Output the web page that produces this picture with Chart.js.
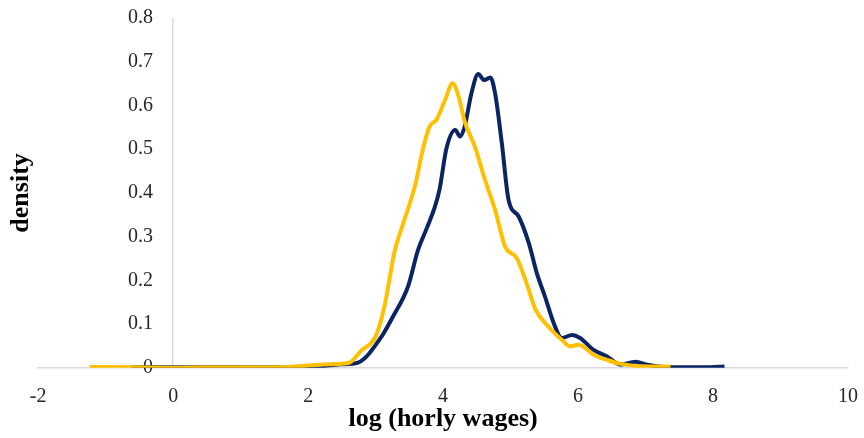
<!DOCTYPE html>
<html>
<head>
<meta charset="utf-8">
<script src="https://cdn.jsdelivr.net/npm/chart.js@4"></script>
<style>
  html, body { margin: 0; padding: 0; background: #fff; }
  #wrap { width: 864px; height: 438px; }
</style>
</head>
<body>
<div id="wrap"><canvas id="densityChart"></canvas></div>
<script>
// values
var goldX = [-1.24, -0.5, 0, 0.5, 1, 1.5, 2.0, 2.3, 2.6, 2.79, 3.0, 3.13, 3.28, 3.41, 3.58, 3.71, 3.80, 3.90, 4.03, 4.14, 4.23, 4.32, 4.47, 4.62, 4.77, 4.92, 5.09, 5.22, 5.37, 5.56, 5.76, 5.88, 6.01, 6.23, 6.43, 6.63, 7.05, 7.37];
var goldY = [0.002, 0.001, 0.000, 0.001, 0.001, 0.001, 0.005, 0.008, 0.011, 0.040, 0.072, 0.140, 0.265, 0.331, 0.414, 0.506, 0.552, 0.567, 0.613, 0.651, 0.620, 0.563, 0.506, 0.430, 0.361, 0.277, 0.251, 0.201, 0.133, 0.094, 0.064, 0.049, 0.053, 0.030, 0.018, 0.009, 0.003, 0.003];

var navyX = [-0.62, 0, 0.5, 1, 1.5, 2, 2.3, 2.5, 2.74, 3.09, 3.25, 3.48, 3.63, 3.76, 3.88, 3.95, 4.05, 4.18, 4.25, 4.32, 4.42, 4.52, 4.61, 4.70, 4.77, 4.87, 4.97, 5.12, 5.27, 5.39, 5.51, 5.64, 5.76, 5.91, 6.03, 6.23, 6.43, 6.63, 6.85, 7.03, 7.4, 7.89, 8.17];
var navyY = [0.001, 0.001, 0.002, 0.002, 0.001, 0.002, 0.005, 0.008, 0.012, 0.072, 0.115, 0.186, 0.270, 0.320, 0.369, 0.410, 0.502, 0.544, 0.529, 0.552, 0.628, 0.672, 0.658, 0.664, 0.628, 0.514, 0.384, 0.346, 0.285, 0.216, 0.163, 0.102, 0.068, 0.075, 0.068, 0.041, 0.026, 0.007, 0.014, 0.007, 0.001, 0.001, 0.003];

var xTicks = [-2, 0, 2, 4, 6, 8, 10];
var yTicks = [0, 0.1, 0.2, 0.3, 0.4, 0.5, 0.6, 0.7, 0.8];

function toPoints(xs, ys) {
  return xs.map(function (x, i) { return { x: x, y: ys[i] }; });
}

var serif = "'Liberation Serif', 'Times New Roman', serif";
var axisGrey = '#d9d9d9';
var textCol = '#262626';

var ctx = document.getElementById('densityChart').getContext('2d');
var chart = new Chart(ctx, {
  type: 'line',
  data: {
    datasets: [{
      label: 'gold',
      data: toPoints(goldX, goldY),
      borderColor: '#FFC000',
      borderWidth: 4,
      pointRadius: 0,
      cubicInterpolationMode: 'monotone',
      fill: false
    }, {
      label: 'navy',
      data: toPoints(navyX, navyY),
      borderColor: '#0B2463',
      borderWidth: 4,
      pointRadius: 0,
      cubicInterpolationMode: 'monotone',
      fill: false
    }]
  },
  options: {
    responsive: true,
    maintainAspectRatio: false,
    animation: false,
    layout: { padding: { top: 18, right: 16, bottom: 1, left: 0 } },
    plugins: {
      legend: { display: false },
      tooltip: { enabled: false }
    },
    scales: {
      x: {
        type: 'linear',
        min: -2,
        max: 10,
        afterBuildTicks: function (axis) {
          axis.ticks = xTicks.map(function (v) { return { value: v }; });
        },
        afterFit: function (axis) { axis.paddingRight = 0; },
        // only the line at x = 0 is shown: it is the vertical axis
        grid: {
          drawOnChartArea: true,
          drawTicks: false,
          lineWidth: 1.5,
          color: function (c) { return c.tick && c.tick.value === 0 ? axisGrey : 'rgba(0,0,0,0)'; }
        },
        border: { color: axisGrey, width: 1.5 },
        ticks: { padding: 17, color: textCol, font: { family: serif, size: 20 } },
        title: {
          display: true,
          text: 'log (horly wages)',
          color: '#000',
          padding: { top: -22, bottom: 2 },
          font: { family: serif, size: 26, weight: 'bold' }
        }
      },
      y: {
        type: 'linear',
        position: { x: -0.3 },
        min: 0,
        max: 0.8,
        afterBuildTicks: function (axis) {
          axis.ticks = yTicks.map(function (v) { return { value: v }; });
        },
        afterFit: function (axis) { axis.paddingTop = 0; axis.paddingBottom = 0; },
        grid: { display: false, drawTicks: false },
        border: { display: false },
        ticks: {
          color: textCol,
          font: { family: serif, size: 20 },
          callback: function (v) { return v === 0 ? '0' : v.toFixed(1); }
        }
      },
      yt: {
        type: 'linear',
        position: 'left',
        grid: { display: false, drawTicks: false },
        border: { display: false },
        ticks: { display: false },
        title: {
          display: true,
          text: 'density',
          color: '#000',
          padding: { top: 6, bottom: 1 },
          font: { family: serif, size: 26, weight: 'bold' }
        }
      }
    }
  }
});
</script>
</body>
</html>
